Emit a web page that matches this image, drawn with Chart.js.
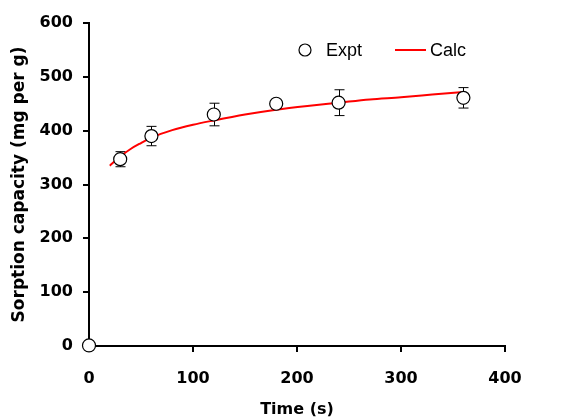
<!DOCTYPE html>
<html lang="en">
<head>
<meta charset="UTF-8">
<title>Sorption capacity</title>
<script src="https://cdn.jsdelivr.net/npm/chart.js@4.4.0/dist/chart.umd.min.js"></script>
<style>
  body { margin: 0; background: #fff; }
</style>
</head>
<body>
<canvas id="myChart" width="577" height="417"></canvas>
<script>
// experimental points (time in s, capacity in mg per g) with error bar half-widths
const exptTime = [0, 30, 60, 120, 180, 240, 360]
const exptValue = [1, 347, 390, 430, 450, 452, 461]
const exptError = [0, 14, 18, 21, 5, 24, 19]

// fitted curve
const calcTime = [20, 30, 40, 50, 60, 80, 100, 120, 150, 180, 210, 240, 270, 300, 330, 360]
const calcValue = [335, 352, 366, 377, 387, 401, 411, 419, 430, 439, 446, 452, 458, 462, 467, 472]

const xTicks = [0, 100, 200, 300, 400]
const yTicks = [0, 100, 200, 300, 400, 500, 600]

const boldFont = 'DejaVu Sans'
const legendFont = 'Liberation Sans, Arial, sans-serif'

// error bars under the points, legend on top
const extras = {
  id: 'extras',
  beforeDatasetsDraw(chart) {
    const ctx = chart.ctx
    const x = chart.scales.x
    const y = chart.scales.y
    ctx.save()
    ctx.strokeStyle = '#000'
    ctx.lineWidth = 1
    exptTime.forEach((t, i) => {
      if (!exptError[i]) return
      const px = Math.round(x.getPixelForValue(t)) + 0.5
      const top = y.getPixelForValue(exptValue[i] + exptError[i])
      const bot = y.getPixelForValue(exptValue[i] - exptError[i])
      ctx.beginPath()
      ctx.moveTo(px, top); ctx.lineTo(px, bot)
      ctx.moveTo(px - 5, top); ctx.lineTo(px + 5, top)
      ctx.moveTo(px - 5, bot); ctx.lineTo(px + 5, bot)
      ctx.stroke()
    })
    ctx.restore()
  },
  afterDraw(chart) {
    const ctx = chart.ctx
    ctx.save()
    ctx.font = '18px ' + legendFont
    ctx.textBaseline = 'middle'
    ctx.strokeStyle = '#000'
    ctx.lineWidth = 1.2
    ctx.beginPath()
    ctx.arc(305, 50, 6, 0, Math.PI * 2)
    ctx.fillStyle = '#fff'
    ctx.fill()
    ctx.stroke()
    ctx.fillStyle = '#000'
    ctx.fillText('Expt', 326, 51)
    ctx.strokeStyle = 'red'
    ctx.lineWidth = 2
    ctx.beginPath()
    ctx.moveTo(395, 50); ctx.lineTo(426, 50)
    ctx.stroke()
    ctx.fillText('Calc', 430, 51)
    ctx.restore()
  }
}

const ctx = document.getElementById('myChart').getContext('2d')
const myChart = new Chart(ctx, {
  type: 'scatter',
  data: {
    datasets: [{
      label: 'Expt',
      data: exptTime.map((t, i) => ({ x: t, y: exptValue[i] })),
      pointRadius: 6.5,
      pointBackgroundColor: '#fff',
      pointBorderColor: '#000',
      pointBorderWidth: 1.2,
      showLine: false,
      clip: false,
      order: 0
    }, {
      label: 'Calc',
      data: calcTime.map((t, i) => ({ x: t, y: calcValue[i] })),
      showLine: true,
      borderColor: 'red',
      borderWidth: 2,
      pointRadius: 0,
      cubicInterpolationMode: 'monotone',
      order: 1
    }]
  },
  options: {
    responsive: false,
    animation: false,
    layout: { padding: { top: 23, right: 72, bottom: 0, left: 0 } },
    plugins: {
      legend: { display: false },
      tooltip: { enabled: false }
    },
    scales: {
      x: {
        type: 'linear',
        min: 0, max: 400,
        afterBuildTicks: s => { s.ticks = xTicks.map(v => ({ value: v })) },
        afterFit: s => { s.height = 71 },
        border: { color: '#000', width: 2 },
        grid: { drawOnChartArea: false, drawTicks: true, tickLength: 6, color: '#000', lineWidth: 2 },
        ticks: { color: '#000', font: { family: boldFont, size: 16, weight: 'bold' }, padding: 17, maxRotation: 0 },
        title: { display: true, text: 'Time (s)', color: '#000', font: { family: boldFont, size: 16, weight: 'bold' }, padding: { top: 0, bottom: -2 } }
      },
      y: {
        type: 'linear',
        min: 0, max: 600,
        afterBuildTicks: s => { s.ticks = yTicks.map(v => ({ value: v })) },
        afterFit: s => { s.width = 89 },
        border: { color: '#000', width: 2 },
        grid: { drawOnChartArea: false, drawTicks: true, tickLength: 6, color: '#000', lineWidth: 2 },
        ticks: { color: '#000', font: { family: boldFont, size: 16, weight: 'bold' }, padding: 10 },
        title: { display: true, text: 'Sorption capacity (mg per g)', color: '#000', font: { family: boldFont, size: 17, weight: 'bold' }, padding: { top: 9, bottom: 0 } }
      }
    }
  },
  plugins: [extras]
})
</script>
</body>
</html>
